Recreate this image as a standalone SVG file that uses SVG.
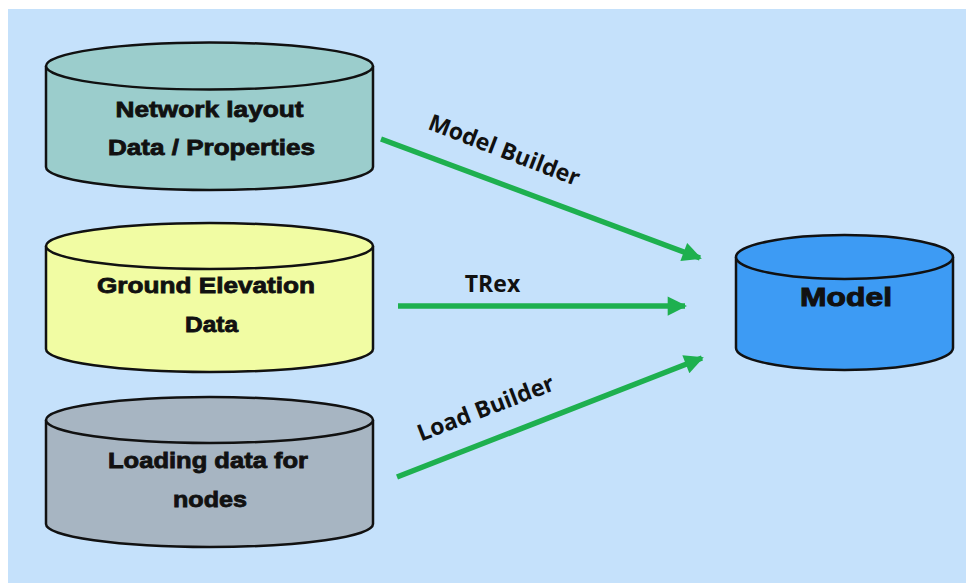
<svg xmlns="http://www.w3.org/2000/svg" width="966" height="583" viewBox="0 0 966 583">
<defs>
<style>
.bg{fill:#c5e1fb}
.cyl{stroke:#111;stroke-width:2.5}
.t{font-family:"Liberation Sans",Arial,sans-serif;font-weight:bold;font-size:21.5px;fill:#111;stroke:#111;stroke-width:0.8;text-anchor:middle}
.lbl{font-family:"Open Sans","Liberation Sans",sans-serif;font-weight:700;font-size:23px;fill:#111;text-anchor:middle}
.arr{stroke:#1eb04f;stroke-width:5.5;fill:none}
</style>
<marker id="ah" viewBox="0 0 10 10" refX="9" refY="5" markerWidth="4" markerHeight="3.5" orient="auto" markerUnits="strokeWidth">
<path d="M0,0 L10,5 L0,10 z" fill="#1eb04f"/>
</marker>
</defs>
<rect x="0" y="0" width="966" height="583" fill="#ffffff"/>
<rect class="bg" x="8" y="9" width="958" height="574"/>

<g id="network">
<path class="cyl" fill="#9bcdcc" d="M46,66 L46,167 A163.5,23 0 0 0 373,167 L373,66"/>
<ellipse class="cyl" fill="#9bcdcc" cx="209.5" cy="66" rx="163.5" ry="23.5"/>
<text class="t" x="209.5" y="116.5" textLength="188" lengthAdjust="spacingAndGlyphs">Network layout</text>
<text class="t" x="211.5" y="155" textLength="207" lengthAdjust="spacingAndGlyphs">Data / Properties</text>
</g>

<g id="ground">
<path class="cyl" fill="#f1fca3" d="M46,246 L46,349 A163.5,23 0 0 0 373,349 L373,246"/>
<ellipse class="cyl" fill="#f1fca3" cx="209.5" cy="246" rx="163.5" ry="23"/>
<text class="t" x="206" y="293" textLength="218" lengthAdjust="spacingAndGlyphs">Ground Elevation</text>
<text class="t" x="211.5" y="332" textLength="53" lengthAdjust="spacingAndGlyphs">Data</text>
</g>

<g id="loading">
<path class="cyl" fill="#a7b5c2" d="M46,420 L46,524 A163.5,23 0 0 0 373,524 L373,420"/>
<ellipse class="cyl" fill="#a7b5c2" cx="209.5" cy="420" rx="163.5" ry="23"/>
<text class="t" x="208" y="468" textLength="200" lengthAdjust="spacingAndGlyphs">Loading data for</text>
<text class="t" x="210" y="507" textLength="74" lengthAdjust="spacingAndGlyphs">nodes</text>
</g>

<g id="model">
<path class="cyl" fill="#3d9bf4" d="M736,257 L736,348 A108.5,22 0 0 0 953,348 L953,257"/>
<ellipse class="cyl" fill="#3d9bf4" cx="844.5" cy="257" rx="108.5" ry="22"/>
<text class="t" x="846" y="306" style="font-size:26.5px;stroke-width:1" textLength="92" lengthAdjust="spacingAndGlyphs">Model</text>
</g>

<g id="connectors">
<line class="arr" x1="381" y1="139" x2="700" y2="258" marker-end="url(#ah)"/>
<line class="arr" x1="398" y1="306" x2="685" y2="306" marker-end="url(#ah)"/>
<line class="arr" x1="397" y1="477" x2="702" y2="358" marker-end="url(#ah)"/>
<text class="lbl" transform="translate(501.5,157.5) rotate(21)">Model Builder</text>
<text class="lbl" x="492.5" y="292">TRex</text>
<text class="lbl" transform="translate(488.5,415.5) rotate(-21)">Load Builder</text>
</g>
</svg>
